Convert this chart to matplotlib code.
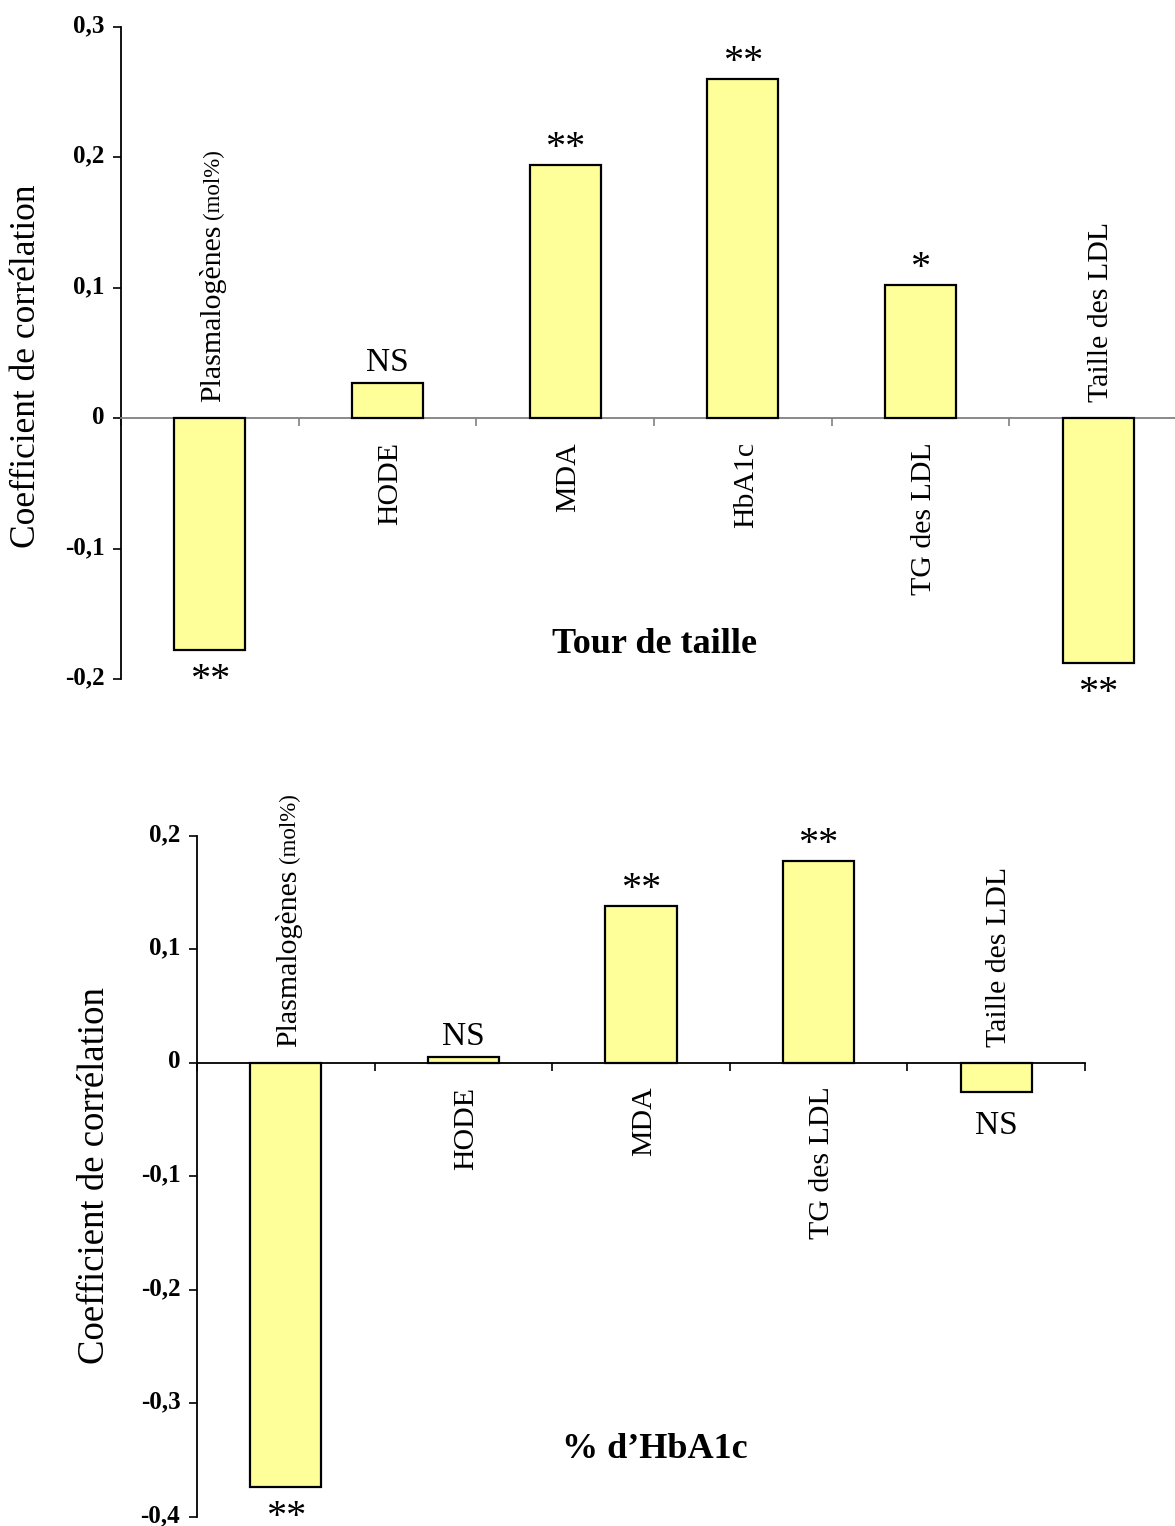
import matplotlib
matplotlib.use("Agg")
import matplotlib.pyplot as plt
import matplotlib.transforms as mtransforms
import numpy as np

plt.rcParams['font.family'] = ['Liberation Serif', 'DejaVu Serif']

# ---------------- data ----------------
top_categories = ["Plasmalogènes", "HODE", "MDA", "HbA1c", "TG des LDL", "Taille des LDL"]
top_values = [-0.178, 0.027, 0.194, 0.260, 0.102, -0.188]
top_signif = ["**", "NS", "**", "**", "*", "**"]
top_title = "Tour de taille"
top_yticks = [-0.2, -0.1, 0.0, 0.1, 0.2, 0.3]
top_yticklabels = ["-0,2", "-0,1", "0", "0,1", "0,2", "0,3"]

bot_categories = ["Plasmalogènes", "HODE", "MDA", "TG des LDL", "Taille des LDL"]
bot_values = [-0.374, 0.005, 0.138, 0.178, -0.026]
bot_signif = ["**", "NS", "**", "**", "NS"]
bot_title = "% d\u2019HbA1c"
bot_yticks = [-0.4, -0.3, -0.2, -0.1, 0.0, 0.1, 0.2]
bot_yticklabels = ["-0,4", "-0,3", "-0,2", "-0,1", "0", "0,1", "0,2"]

unit_suffix = "(mol%)"
ylabel = "Coefficient de corrélation"

W, H = 1175, 1526
fig = plt.figure(figsize=(W / 100, H / 100), dpi=100)

BAR_COLOR = "#FFFF99"
PX = 0.72  # points per pixel


def draw_panel(ax, cats, vals, sig, yticks, yticklabels, zero_color, ylim):
    n = len(cats)
    x = np.arange(n)
    ax.bar(x, vals, width=0.4, color=BAR_COLOR, edgecolor="black", linewidth=1.6, zorder=3)
    ax.set_xlim(-0.5, n - 0.5)
    ax.set_ylim(*ylim)
    for s in ["top", "right"]:
        ax.spines[s].set_visible(False)
    ax.spines["bottom"].set_position(("data", 0))
    ax.spines["bottom"].set_color(zero_color)
    ax.spines["bottom"].set_linewidth(1.3)
    ax.spines["left"].set_linewidth(1.3)
    ax.set_xticks(np.arange(n + 1) - 0.5)
    ax.set_xticklabels([])
    ax.tick_params(axis="x", direction="out", length=6, width=1.2, color=zero_color)
    ax.set_yticks(yticks)
    ax.set_yticklabels(yticklabels, fontsize=18, fontweight="bold")
    ax.tick_params(axis="y", direction="out", length=6, width=1.2, pad=6)
    shift = mtransforms.ScaledTranslation(0, 3.5 / 100, fig.dpi_scale_trans)
    for lab in ax.get_yticklabels():
        lab.set_transform(lab.get_transform() + shift)

    for i, (c, v, s) in enumerate(zip(cats, vals, sig)):
        # category label (rotated)
        if v < 0:
            t = ax.annotate(c, xy=(i, 0), xytext=(10 * PX, 16 * PX), textcoords="offset points",
                            rotation=90, rotation_mode="anchor", ha="left", va="baseline",
                            fontsize=21.5)
        else:
            t = ax.annotate(c, xy=(i, 0), xytext=(10 * PX, -24 * PX), textcoords="offset points",
                            rotation=90, rotation_mode="anchor", ha="right", va="baseline",
                            fontsize=21.5)
        if c == "Plasmalogènes":
            ax.annotate(unit_suffix, xy=(1, 1), xycoords=t, xytext=(-6.5 * PX, 6 * PX),
                        textcoords="offset points", rotation=90, rotation_mode="anchor",
                        ha="left", va="baseline", fontsize=16.5)
        # significance label
        if s == "NS":
            fs = 24
            off = 12 if v >= 0 else -42
        else:
            fs = 29
            off = 7 if v >= 0 else -40
        ax.annotate(s, xy=(i, v), xytext=(0, off * PX), textcoords="offset points",
                    ha="center", va="baseline", fontsize=fs)


# top panel: y axis at x=121, extends beyond right edge
ax1 = fig.add_axes([121 / W, 1 - 679 / H, 1066 / W, (679 - 26.7) / H])
draw_panel(ax1, top_categories, top_values, top_signif, top_yticks, top_yticklabels,
           "#808080", (-0.2, 0.3))
fig.text(654 / W, 1 - 645 / H, top_title, ha="center", va="center", fontsize=26, fontweight="bold")
fig.text(27 / W, 1 - 366 / H, ylabel, rotation=90, ha="center", va="center", fontsize=25.5)

# bottom panel
ax2 = fig.add_axes([197 / W, 1 - 1516.7 / H, 888 / W, (1516.7 - 835.7) / H])
draw_panel(ax2, bot_categories, bot_values, bot_signif, bot_yticks, bot_yticklabels,
           "black", (-0.4, 0.2))
fig.text(655 / W, 1 - 1450 / H, bot_title, ha="center", va="center", fontsize=26, fontweight="bold")
fig.text(95 / W, 1 - 1176 / H, ylabel, rotation=90, ha="center", va="center", fontsize=26.5)

fig.savefig("out.png", dpi=100)
